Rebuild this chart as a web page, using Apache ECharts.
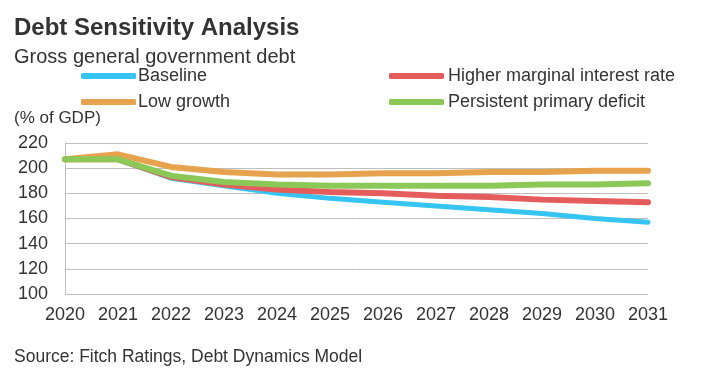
<!DOCTYPE html>
<html><head><meta charset="utf-8">
<script src="https://cdn.jsdelivr.net/npm/echarts@6/dist/echarts.min.js"></script>
<style>html,body{margin:0;padding:0;background:#fff}#c{width:725px;height:380px}</style>
</head><body><div id="c"></div>
<script>
const years = ['2020','2021','2022','2023','2024','2025','2026','2027','2028','2029','2030','2031'];
const baseline = [207,207,192,186,180,176,173,170,167,164,160,157];
const higherRate = [207,207,193,187,183,181,180,178,177,175,174,173];
const lowGrowth = [207,211,201,197,195,195,196,196,197,197,198,198];
const primaryDeficit = [207,207,194,189,187,186,186,186,186,187,187,188];
const yTicks = {min:100, max:220, interval:20};

const FONT = 'Liberation Sans, Arial, sans-serif';
const TXT = '#333333';
const chart = echarts.init(document.getElementById('c'));
function line(name, data, color, w) {
  return {name, type:'line', data, symbol:'none', smooth:false,
    lineStyle:{color, width:w, cap:'round', join:'round'}, itemStyle:{color}};
}
chart.setOption({
  animation:false,
  textStyle:{fontFamily:FONT},
  title:[
    {text:'Debt Sensitivity Analysis', left:14, top:16, padding:0,
     textStyle:{fontFamily:FONT, fontSize:24, fontWeight:'bold', color:TXT}},
    {text:'Gross general government debt', left:14, top:47, padding:0,
     textStyle:{fontFamily:FONT, fontSize:20, fontWeight:'normal', color:TXT}},
    {text:'(% of GDP)', left:14, top:110, padding:0,
     textStyle:{fontFamily:FONT, fontSize:17, fontWeight:'normal', color:TXT}},
    {text:'Source: Fitch Ratings, Debt Dynamics Model', left:14, top:348, padding:0,
     textStyle:{fontFamily:FONT, fontSize:17.5, fontWeight:'normal', color:TXT}}
  ],
  legend:[
    {data:['Baseline','Low growth'], orient:'vertical', left:81, top:67, itemGap:8,
     itemWidth:55, itemHeight:6, icon:'roundRect', padding:0,
     textStyle:{fontFamily:FONT, fontSize:18, color:TXT, padding:[0,0,0,-3]}},
    {data:['Higher marginal interest rate','Persistent primary deficit'], orient:'vertical', left:389, top:67, itemGap:8,
     itemWidth:55, itemHeight:6, icon:'roundRect', padding:0,
     textStyle:{fontFamily:FONT, fontSize:18, color:TXT, padding:[0,0,0,-1]}}
  ],
  grid:{left:65, right:77, top:143, bottom:86},
  xAxis:{type:'category', data:years, boundaryGap:false,
    axisLine:{show:false}, axisTick:{show:false},
    axisLabel:{fontFamily:FONT, fontSize:18, color:TXT, margin:12}},
  yAxis:{type:'value', min:yTicks.min, max:yTicks.max, interval:yTicks.interval,
    axisLine:{show:true, lineStyle:{color:'#bfbfbf'}}, axisTick:{show:false},
    splitLine:{lineStyle:{color:'#bfbfbf', width:1}},
    axisLabel:{fontFamily:FONT, fontSize:18, color:TXT, margin:17}},
  series:[
    line('Baseline', baseline, '#36c5f2', 5),
    line('Higher marginal interest rate', higherRate, '#e55c5c', 6),
    line('Low growth', lowGrowth, '#e6a24d', 6),
    line('Persistent primary deficit', primaryDeficit, '#8cc858', 6)
  ]
});
</script></body></html>
